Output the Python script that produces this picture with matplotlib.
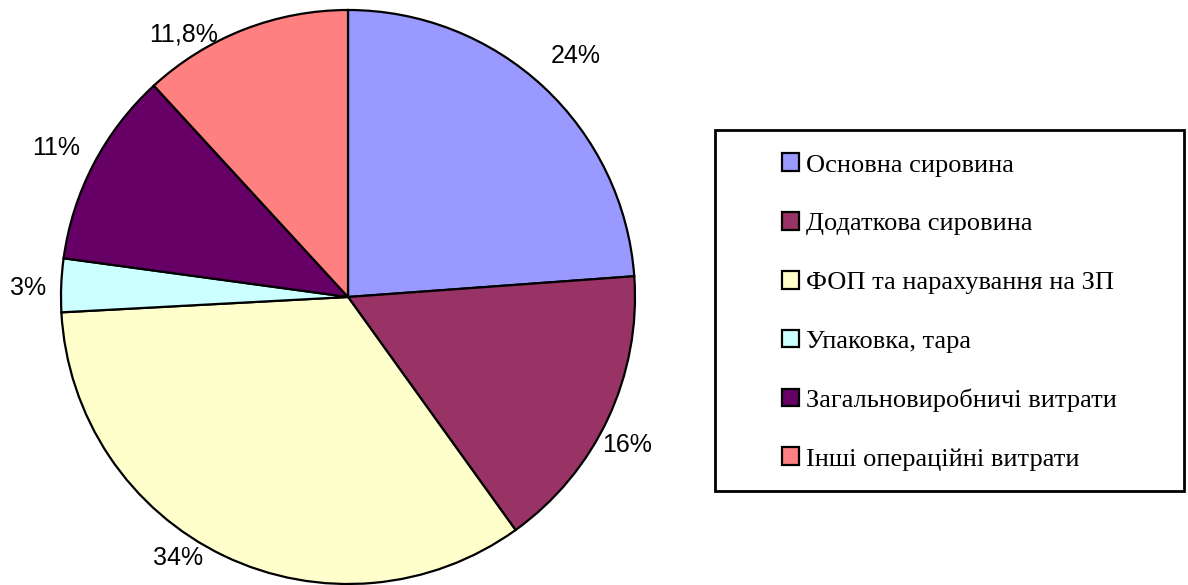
import numpy as np
import matplotlib.pyplot as plt
from matplotlib.patches import Rectangle

# cost structure shares, %
categories = ['Основна сировина', 'Додаткова сировина', 'ФОП та нарахування на ЗП',
              'Упаковка, тара', 'Загальновиробничі витрати', 'Інші операційні витрати']
shares = [23.8, 16.2, 34, 3, 11, 11.8]
pct_labels = ['24%', '16%', '34%', '3%', '11%', '11,8%']
colors = ['#9999FF', '#993366', '#FFFFCC', '#CCFFFF', '#660066', '#FF8080']

# label placement tweaks (angle nudge in degrees, radial distance)
label_dtheta = [-0.5, -2.8, -7.4, 0.7, 0.6, 10.7]
label_dist = [1.155, 1.10, 1.085, 1.115, 1.14, 1.08]

W, H = 1188, 585
fig = plt.figure(figsize=(W / 100, H / 100), dpi=100)

# pie centred at (348, 297) px, radius 287 px
cx, cy, r = 348, 297, 287
ax = fig.add_axes([(cx - r) / W, (H - cy - r) / H, 2 * r / W, 2 * r / H])
wedges, texts = ax.pie(shares, labels=pct_labels, colors=colors, startangle=90,
                       counterclock=False, labeldistance=1.1,
                       wedgeprops=dict(edgecolor='black', linewidth=1.6),
                       textprops=dict(fontfamily='Liberation Sans', fontsize=18))
for w, t, dth, d in zip(wedges, texts, label_dtheta, label_dist):
    ang = np.deg2rad((w.theta1 + w.theta2) / 2 + dth)
    t.set_position((d * np.cos(ang), d * np.sin(ang)))
    t.set_ha('center')
    t.set_va('center')
ax.set_xlim(-1, 1)
ax.set_ylim(-1, 1)
ax.set_aspect('equal')
ax.axis('off')

# legend frame
fig.patches.append(Rectangle((715 / W, 1 - 491 / H), (1184 - 715) / W, (491 - 130) / H,
                             transform=fig.transFigure, fill=False,
                             edgecolor='black', linewidth=2))

fig.legend(wedges, categories, loc='center left',
           bbox_to_anchor=(782 / W, 1 - 312 / H), frameon=False,
           borderpad=0, borderaxespad=0,
           prop=dict(family='Liberation Serif', size=19),
           handlelength=0.65, handleheight=0.65, handletextpad=0.25,
           labelspacing=1.35)

fig.savefig('out.png', dpi=100)
